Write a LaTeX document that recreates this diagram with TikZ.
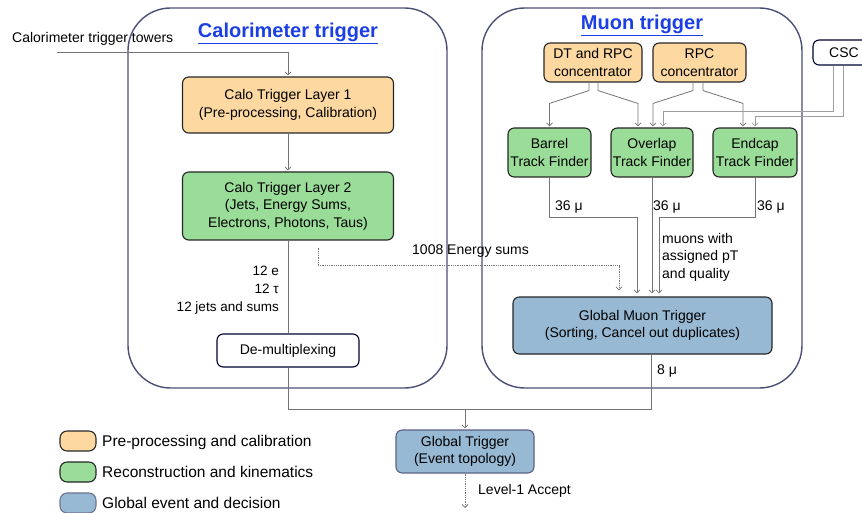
\documentclass[tikz,border=0pt]{standalone}
\usepackage{fontspec}
\setmainfont{Liberation Sans}
\usetikzlibrary{arrows.meta,positioning}
\definecolor{prepcol}{HTML}{FDD9A1}
\definecolor{recocol}{HTML}{9ADD98}
\definecolor{globcol}{HTML}{97B9D4}
\definecolor{framecol}{HTML}{4B4F78}
\definecolor{linkcol}{HTML}{747474}
\definecolor{titlecol}{HTML}{1B3FE4}

\begin{document}
\begin{tikzpicture}[
    x=1pt, y=-1pt,
    font=\fontsize{14}{17.5}\selectfont,
    >={Straight Barb[length=3pt,width=6pt]},
    box/.style={draw=black!85, line width=1.1pt, rounded corners=2.2mm, align=center, inner sep=0pt},
    prep/.style={box, fill=prepcol},
    reco/.style={box, fill=recocol},
    glob/.style={box, fill=globcol},
    plain/.style={box, fill=white, draw=black!80!blue},
    group/.style={draw=framecol, line width=1.4pt, rounded corners=15mm, minimum width=#1, minimum height=380pt},
    heading/.style={font=\fontsize{20}{24}\selectfont\bfseries, text=titlecol},
    lbl/.style={inner sep=0pt, align=left},
    legtext/.style={lbl, anchor=west, font=\fontsize{15.5}{18}\selectfont},
    arrow/.style={->, draw=linkcol, line width=0.8pt, shorten >=1pt},
    flow/.style={draw=linkcol, line width=0.8pt},
    dotarrow/.style={->, draw=linkcol, line width=0.8pt, densely dotted}
  ]
    \useasboundingbox (0,0) rectangle (862,513);

    \node[group=319pt] (calobox) at (287.5,198) {};
    \node[group=320pt] (muonbox) at (642,198) {};
    \node[heading] (calotitle) at (288,33) {\underline{Calorimeter trigger}};
    \node[heading] (muontitle) at (642,25) {\underline{Muon trigger}};

    % calorimeter side
    \node[lbl, anchor=west] (towers) at (12,39) {Calorimeter trigger towers};
    \coordinate (towin) at (57,52);
    \node[prep, minimum width=211pt, minimum height=56pt] (layer1) at (288,105) {Calo Trigger Layer 1\\(Pre-processing, Calibration)};
    \node[reco, minimum width=211pt, minimum height=68pt] (layer2) at (288,206) {Calo Trigger Layer 2\\(Jets, Energy Sums,\\Electrons, Photons, Taus)};
    \node[lbl, anchor=east, align=right, font=\fontsize{13.5}{18}\selectfont] (calocount) at (279,290) {12 e\\12 τ\\12 jets and sums};
    \node[plain, minimum width=142pt, minimum height=33pt] (demux) at (288,350.5) {De-multiplexing};

    % muon side
    \node[prep, minimum width=98pt, minimum height=39pt] (dtrpc) at (593,62.5) {DT and RPC\\concentrator};
    \node[prep, minimum width=93pt, minimum height=39pt] (rpc) at (699.5,62.5) {RPC\\concentrator};
    \node[plain, minimum width=62pt, minimum height=25pt] (csc) at (844,52.5) {CSC};
    \node[reco, minimum width=83pt, minimum height=49pt] (barrel) at (549.5,152.5) {Barrel\\Track Finder};
    \node[reco, minimum width=82pt, minimum height=49pt] (overlap) at (652,152.5) {Overlap\\Track Finder};
    \node[reco, minimum width=84pt, minimum height=49pt] (endcap) at (755,152.5) {Endcap\\Track Finder};
    \node[glob, minimum width=259pt, minimum height=57pt] (gmt) at (642.5,325.5) {Global Muon Trigger\\(Sorting, Cancel out duplicates)};
    \node[lbl, anchor=west] (barrelmu) at (555,207) {36 μ};
    \node[lbl, anchor=west] (overlapmu) at (653,207) {36 μ};
    \node[lbl, anchor=west] (endcapmu) at (757,207) {36 μ};
    \node[lbl, anchor=west] (muonnote) at (662,257) {muons with\\assigned pT\\and quality};
    \node[lbl, anchor=west] (esums) at (412,251) {1008 Energy sums};
    \node[lbl, anchor=west] (gmtmu) at (657,371) {8 μ};

    % global trigger
    \node[glob, draw=framecol!90, minimum width=138pt, minimum height=43pt] (gt) at (465,451.5) {Global Trigger\\(Event topology)};
    \coordinate (gtbus) at (465,409);
    \coordinate (accept) at (465,508);
    \node[lbl, anchor=west] (acceptlbl) at (478,491) {Level-1 Accept};

    \draw[arrow] (towin) -| (layer1.north);
    \draw[arrow] (layer1.south) -- (layer2.north);
    \draw[flow] (layer2.south) -- (demux.north);
    \draw[flow] (demux.south) |- (gtbus);
    \draw[flow] ([xshift=9pt]gmt.south) |- (gtbus);
    \draw[arrow] (gtbus) -- (gt.north);
    \draw[dotarrow] (gt.south) -- (accept);

    \draw[arrow] ([xshift=-4pt]dtrpc.south) -- ++(0,8) -- ([yshift=24pt]barrel.north) -- (barrel.north);
    \draw[arrow] ([xshift=5pt]dtrpc.south) -- ++(0,8) -- ([xshift=-14pt,yshift=24pt]overlap.north) -- ([xshift=-14pt]overlap.north);
    \draw[arrow] ([xshift=-6.5pt]rpc.south) -- ++(0,8) -- ([xshift=1pt,yshift=24pt]overlap.north) -- ([xshift=1pt]overlap.north);
    \draw[arrow] ([xshift=3.5pt]rpc.south) -- ++(0,8) -- ([xshift=-12pt,yshift=24pt]endcap.north) -- ([xshift=-12pt]endcap.north);
    \draw[arrow, draw=linkcol!70] ([xshift=-11pt]csc.south) |- ([xshift=11pt,yshift=16pt]overlap.north) -- ([xshift=11pt]overlap.north);
    \draw[arrow, draw=linkcol!70] ([xshift=-1pt]csc.south) |- ([yshift=11pt]endcap.north) -- (endcap.north);

    \draw[arrow, shorten >=3pt] (barrel.south) -- ++(0,40) -| ([xshift=-5.5pt]gmt.north);
    \draw[arrow, shorten >=3pt] (overlap.south) -- (overlap.south |- gmt.north);
    \draw[arrow, shorten >=3pt] (endcap.south) -- ++(0,40) -| ([xshift=16.5pt]gmt.north);
    \draw[dotarrow, shorten >=6pt] ([xshift=30pt,yshift=-7pt]layer2.south) -- ++(0,18) -| ([xshift=-23.5pt]gmt.north);

    % legend
    \node[prep, minimum width=36pt, minimum height=20pt, rounded corners=2.5mm] (legprep) at (78,441) {};
    \node[reco, minimum width=36pt, minimum height=20pt, rounded corners=2.5mm] (legreco) at (78,472) {};
    \node[glob, draw=framecol!80, minimum width=36pt, minimum height=20pt, rounded corners=2.5mm] (legglob) at (78,503) {};
    \node[legtext] (legpreptext) at (102,442) {Pre-processing and calibration};
    \node[legtext] (legrecotext) at (102,472) {Reconstruction and kinematics};
    \node[legtext] (legglobtext) at (102,503) {Global event and decision};
\end{tikzpicture}
\end{document}
